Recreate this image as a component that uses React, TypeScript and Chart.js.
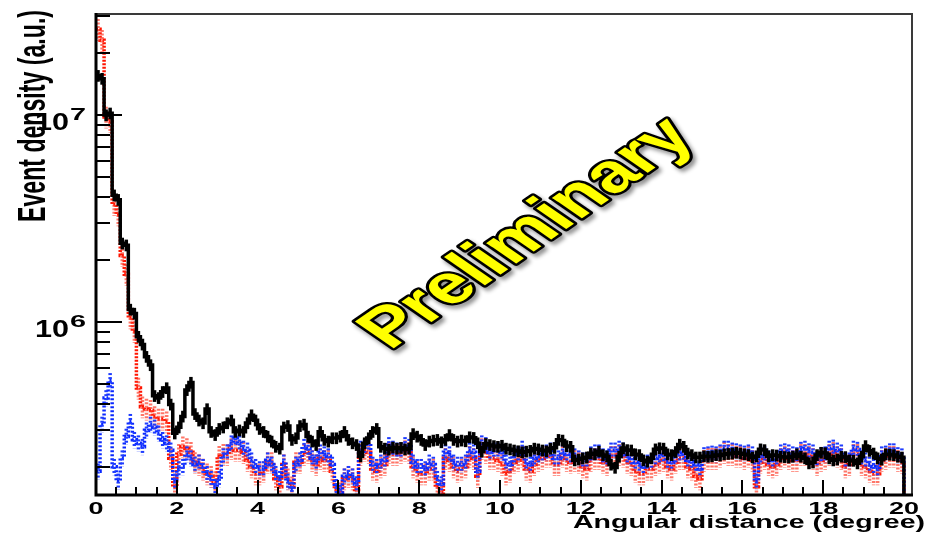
import { useEffect, useRef } from "react";
import { Chart, registerables } from "chart.js";

Chart.register(...registerables);

// Histogram binning: 0.1 degree bins from 0 to 20 degrees
const BIN_WIDTH = 0.1;
const X_MIN = 0;
const X_MAX = 20.2;
const Y_MIN = 1.46e5;
const Y_MAX = 3.08e7;
// content of the empty bins past the last filled one (drawn off the bottom of a log axis)
const EMPTY_BIN = 1;

const X_MAJOR_TICKS = [0, 2, 4, 6, 8, 10, 12, 14, 16, 18, 20];
const X_TICK_LABELS = ["0", "2", "4", "6", "8", "10", "12", "14", "16", "18", "20"];
const X_MINOR_STEP = 0.5;
const Y_MAJOR_TICKS = [1e6, 1e7];
const Y_TICK_EXPONENTS = ["6", "7"];
const Y_MINOR_TICKS = [
  2e5, 3e5, 4e5, 5e5, 6e5, 7e5, 8e5, 9e5,
  2e6, 3e6, 4e6, 5e6, 6e6, 7e6, 8e6, 9e6,
  2e7, 3e7,
];

const X_TITLE = "Angular distance (degree)";
const Y_TITLE = "Event density (a.u.)";
const WATERMARK = "Preliminary";

// Event density per bin
const BLACK = [
  1.55e7, 1.5e7, 1.0e7, 1.02e7, 4.1e6, 3.9e6, 2.4e6, 2.35e6, 1.15e6, 1.1e6,
  8.5e5, 7.8e5, 6.8e5, 6.2e5, 4.4e5, 4.3e5, 4.6e5, 4.8e5, 4.0e5, 2.9e5,
  3.1e5, 3.5e5, 4.7e5, 5.1e5, 3.6e5, 3.35e5, 3.25e5, 3.8e5, 2.95e5, 2.85e5,
  3.05e5, 3.1e5, 3.25e5, 3.35e5, 2.95e5, 3.0e5, 2.95e5, 3.25e5, 3.55e5, 3.35e5,
  3.05e5, 2.95e5, 2.8e5, 2.65e5, 2.5e5, 2.45e5, 3.1e5, 3.15e5, 2.7e5, 2.75e5,
  3.15e5, 3.2e5, 2.8e5, 2.65e5, 2.55e5, 2.95e5, 2.7e5, 2.65e5, 2.75e5, 2.75e5,
  2.8e5, 2.95e5, 2.7e5, 2.6e5, 2.55e5, 2.25e5, 2.6e5, 2.75e5, 2.95e5, 3.05e5,
  2.5e5, 2.45e5, 2.42e5, 2.48e5, 2.45e5, 2.47e5, 2.43e5, 2.45e5, 2.88e5, 2.8e5,
  2.7e5, 2.55e5, 2.65e5, 2.68e5, 2.7e5, 2.63e5, 2.7e5, 2.85e5, 2.7e5, 2.65e5,
  2.68e5, 2.66e5, 2.78e5, 2.76e5, 2.6e5, 2.37e5, 2.58e5, 2.55e5, 2.52e5, 2.5e5,
  2.53e5, 2.45e5, 2.43e5, 2.4e5, 2.38e5, 2.35e5, 2.37e5, 2.39e5, 2.45e5, 2.43e5,
  2.4e5, 2.38e5, 2.45e5, 2.47e5, 2.7e5, 2.68e5, 2.52e5, 2.5e5, 2.15e5, 2.17e5,
  2.2e5, 2.22e5, 2.32e5, 2.3e5, 2.37e5, 2.28e5, 2.25e5, 2.05e5, 1.98e5, 2.24e5,
  2.46e5, 2.41e5, 2.4e5, 2.3e5, 2.28e5, 2.15e5, 2.12e5, 2.2e5, 2.43e5, 2.46e5,
  2.45e5, 2.3e5, 2.28e5, 2.36e5, 2.56e5, 2.5e5, 2.32e5, 2.28e5, 2.22e5, 2.22e5,
  2.25e5, 2.24e5, 2.25e5, 2.28e5, 2.27e5, 2.3e5, 2.31e5, 2.32e5, 2.34e5, 2.32e5,
  2.3e5, 2.28e5, 2.22e5, 2.25e5, 2.43e5, 2.41e5, 2.25e5, 2.28e5, 2.27e5, 2.24e5,
  2.23e5, 2.22e5, 2.24e5, 2.3e5, 2.24e5, 2.2e5, 2.08e5, 2.1e5, 2.28e5, 2.34e5,
  2.33e5, 2.2e5, 2.15e5, 2.17e5, 2.24e5, 2.23e5, 2.15e5, 2.14e5, 2.08e5, 2.24e5,
  2.52e5, 2.39e5, 2.32e5, 2.2e5, 2.17e5, 2.3e5, 2.29e5, 2.28e5, 2.24e5, 2.22e5,
];

const RED = [
  2.6e7, 2.3e7, 9.8e6, 9.3e6, 3.7e6, 3.3e6, 2.1e6, 1.7e6, 1.05e6, 9.0e5,
  4.8e5, 3.9e5, 3.8e5, 3.75e5, 3.5e5, 3.4e5, 3.4e5, 3.3e5, 2.2e5, 1.6e5,
  2.3e5, 2.5e5, 2.45e5, 2.35e5, 2.1e5, 2.05e5, 1.95e5, 1.85e5, 1.8e5, 1.7e5,
  2.25e5, 2.3e5, 2.3e5, 2.45e5, 2.4e5, 2.4e5, 2.35e5, 2.15e5, 2.0e5, 1.85e5,
  1.85e5, 1.9e5, 2.1e5, 2.1e5, 1.75e5, 1.6e5, 2.05e5, 1.75e5, 1.6e5, 2.1e5,
  2.1e5, 2.3e5, 2.35e5, 2.15e5, 2.05e5, 2.2e5, 2.15e5, 2.15e5, 1.9e5, 1.55e5,
  1.5e5, 1.75e5, 1.8e5, 1.75e5, 1.55e5, 2.3e5, 2.4e5, 2.35e5, 1.95e5, 1.9e5,
  2.0e5, 2.05e5, 2.35e5, 2.3e5, 2.3e5, 2.35e5, 2.4e5, 2.35e5, 2.0e5, 1.9e5,
  1.85e5, 1.85e5, 1.95e5, 1.95e5, 1.6e5, 1.5e5, 2.2e5, 2.15e5, 2.0e5, 1.9e5,
  1.95e5, 2.0e5, 2.25e5, 2.2e5, 1.8e5, 2.45e5, 2.35e5, 2.2e5, 2.2e5, 2.15e5,
  2.05e5, 1.85e5, 1.9e5, 2.1e5, 2.15e5, 2.25e5, 1.95e5, 1.9e5, 2.05e5, 2.15e5,
  2.2e5, 2.25e5, 2.25e5, 2.05e5, 2.05e5, 2.25e5, 2.15e5, 2.1e5, 2.15e5, 2.1e5,
  2.0e5, 1.95e5, 2.15e5, 2.2e5, 2.2e5, 2.1e5, 2.05e5, 2.25e5, 2.25e5, 2.3e5,
  2.25e5, 2.1e5, 2.05e5, 1.9e5, 1.85e5, 1.85e5, 1.95e5, 1.95e5, 2.05e5, 2.1e5,
  2.15e5, 2.0e5, 1.95e5, 2.1e5, 2.2e5, 2.2e5, 2.0e5, 1.95e5, 1.8e5, 1.75e5,
  2.15e5, 2.2e5, 2.2e5, 2.2e5, 2.25e5, 2.35e5, 2.3e5, 2.3e5, 2.25e5, 2.25e5,
  2.2e5, 2.25e5, 2.15e5, 1.6e5, 2.1e5, 2.2e5, 2.05e5, 2.0e5, 2.05e5, 2.2e5,
  2.25e5, 2.2e5, 2.15e5, 2.15e5, 2.3e5, 2.3e5, 2.25e5, 2.2e5, 2.05e5, 2.15e5,
  2.2e5, 2.3e5, 2.35e5, 2.25e5, 2.2e5, 2.0e5, 2.05e5, 2.3e5, 2.3e5, 2.05e5,
  2.0e5, 1.9e5, 1.85e5, 1.85e5, 2.15e5, 2.2e5, 2.25e5, 2.25e5, 2.15e5, 2.1e5,
];

const BLUE = [
  1.9e5, 3.2e5, 4.3e5, 5.2e5, 2.0e5, 1.7e5, 2.2e5, 2.8e5, 3.3e5, 2.7e5,
  2.6e5, 2.5e5, 3.0e5, 3.2e5, 3.1e5, 2.9e5, 2.7e5, 2.6e5, 2.4e5, 1.7e5,
  1.95e5, 2.0e5, 2.3e5, 2.2e5, 2.05e5, 2.1e5, 2.0e5, 1.85e5, 1.75e5, 1.6e5,
  1.75e5, 2.25e5, 2.35e5, 2.6e5, 2.75e5, 2.6e5, 2.45e5, 2.4e5, 2.15e5, 2.0e5,
  1.95e5, 1.95e5, 2.15e5, 2.05e5, 1.85e5, 1.75e5, 2.1e5, 1.7e5, 1.55e5, 2.05e5,
  2.15e5, 2.5e5, 2.45e5, 2.2e5, 2.1e5, 2.35e5, 2.3e5, 2.25e5, 2.05e5, 1.6e5,
  1.5e5, 1.8e5, 1.85e5, 1.8e5, 1.65e5, 2.45e5, 2.5e5, 2.6e5, 2.05e5, 2.0e5,
  2.1e5, 2.15e5, 2.55e5, 2.45e5, 2.4e5, 2.4e5, 2.55e5, 2.5e5, 2.1e5, 2.0e5,
  2.0e5, 1.95e5, 2.1e5, 2.05e5, 1.75e5, 1.65e5, 2.35e5, 2.3e5, 2.1e5, 2.05e5,
  2.05e5, 2.1e5, 2.4e5, 2.35e5, 1.9e5, 2.6e5, 2.55e5, 2.35e5, 2.4e5, 2.4e5,
  2.35e5, 2.1e5, 2.05e5, 2.25e5, 2.3e5, 2.45e5, 2.1e5, 2.05e5, 2.2e5, 2.25e5,
  2.3e5, 2.35e5, 2.4e5, 2.2e5, 2.2e5, 2.35e5, 2.3e5, 2.25e5, 2.25e5, 2.2e5,
  2.15e5, 2.15e5, 2.3e5, 2.35e5, 2.35e5, 2.25e5, 2.2e5, 2.4e5, 2.4e5, 2.45e5,
  2.4e5, 2.25e5, 2.2e5, 2.1e5, 2.05e5, 2.0e5, 2.1e5, 2.12e5, 2.2e5, 2.25e5,
  2.28e5, 2.12e5, 2.1e5, 2.25e5, 2.3e5, 2.32e5, 2.15e5, 2.12e5, 2.05e5, 1.95e5,
  2.28e5, 2.3e5, 2.32e5, 2.3e5, 2.35e5, 2.45e5, 2.45e5, 2.4e5, 2.38e5, 2.35e5,
  2.32e5, 2.35e5, 2.3e5, 1.7e5, 2.25e5, 2.3e5, 2.2e5, 2.15e5, 2.2e5, 2.35e5,
  2.38e5, 2.35e5, 2.3e5, 2.28e5, 2.42e5, 2.45e5, 2.38e5, 2.35e5, 2.18e5, 2.28e5,
  2.3e5, 2.45e5, 2.48e5, 2.4e5, 2.35e5, 2.15e5, 2.15e5, 2.45e5, 2.42e5, 2.2e5,
  2.15e5, 2.05e5, 2.0e5, 1.95e5, 2.3e5, 2.32e5, 2.38e5, 2.38e5, 2.28e5, 2.25e5,
];

// Relative statistical uncertainty shown as vertical error bars
const BLACK_REL_ERR = 0.065;
const RED_REL_ERR = 0.12;
const BLUE_REL_ERR = 0.09;

const FONT = '"Liberation Sans", Arial, Helvetica, sans-serif';

type Series = {
  values: number[];
  relErr: number;
  line: string;
  errColor: string;
  dash: number[];
  width: number;
};

const SERIES: Series[] = [
  { values: BLACK, relErr: BLACK_REL_ERR, line: "#000000", errColor: "#000000", dash: [], width: 3.5 },
  { values: BLUE, relErr: BLUE_REL_ERR, line: "rgb(10,40,255)", errColor: "rgb(30,60,255)", dash: [2, 2], width: 3.5 },
  { values: RED, relErr: RED_REL_ERR, line: "rgb(255,20,0)", errColor: "rgba(255,60,40,0.7)", dash: [2, 1.5], width: 3.5 },
];

function stepPoints(values: number[]) {
  const pts = values.map((v, i) => ({ x: i * BIN_WIDTH, y: v }));
  pts.push({ x: values.length * BIN_WIDTH, y: EMPTY_BIN });
  return pts;
}

// draw text squeezed or stretched horizontally to a given advance width
function fitText(
  ctx: CanvasRenderingContext2D,
  text: string,
  x: number,
  y: number,
  font: string,
  width: number,
  align: CanvasTextAlign
) {
  ctx.save();
  ctx.font = font;
  const w = ctx.measureText(text).width;
  ctx.translate(x, y);
  ctx.scale(width / w, 1);
  ctx.textAlign = align;
  ctx.textBaseline = "alphabetic";
  ctx.fillText(text, 0, 0);
  ctx.restore();
}

const errorBars = {
  id: "errorBars",
  afterDatasetDraw(chart: any, args: any) {
    const s = SERIES[args.index];
    if (!s) return;
    const { ctx, chartArea } = chart;
    const xs = chart.scales.x;
    const ys = chart.scales.y;
    ctx.save();
    ctx.beginPath();
    ctx.rect(chartArea.left, chartArea.top, chartArea.right - chartArea.left, chartArea.bottom - chartArea.top);
    ctx.clip();
    ctx.strokeStyle = s.errColor;
    ctx.lineWidth = s.width;
    ctx.setLineDash(s.dash);
    ctx.lineCap = "butt";
    s.values.forEach((v, i) => {
      const xc = xs.getPixelForValue((i + 0.5) * BIN_WIDTH);
      const y1 = ys.getPixelForValue(v * (1 + s.relErr));
      const y2 = ys.getPixelForValue(v * (1 - s.relErr));
      ctx.beginPath();
      ctx.moveTo(xc, y1);
      ctx.lineTo(xc, y2);
      ctx.stroke();
    });
    ctx.restore();
  },
};

const frameAndText = {
  id: "frameAndText",
  afterDraw(chart: any) {
    const { ctx, chartArea } = chart;
    const { left, right, top, bottom } = chartArea;
    const xs = chart.scales.x;
    const ys = chart.scales.y;
    ctx.save();

    // top and right frame
    ctx.strokeStyle = "#3a3a3a";
    ctx.lineWidth = 2;
    ctx.beginPath();
    ctx.moveTo(left, top);
    ctx.lineTo(right, top);
    ctx.lineTo(right, bottom);
    ctx.stroke();

    // axis lines
    ctx.strokeStyle = "#000";
    ctx.lineWidth = 3;
    ctx.beginPath();
    ctx.moveTo(left, top - 1);
    ctx.lineTo(left, bottom);
    ctx.lineTo(right + 1, bottom);
    ctx.stroke();

    // x ticks (pointing into the frame)
    ctx.lineWidth = 2;
    for (let v = X_MIN; v <= 20 + 1e-9; v += X_MINOR_STEP) {
      const major = X_MAJOR_TICKS.some((t) => Math.abs(t - v) < 1e-6);
      const px = Math.round(xs.getPixelForValue(v));
      ctx.beginPath();
      ctx.moveTo(px, bottom);
      ctx.lineTo(px, bottom - (major ? 15 : 8));
      ctx.stroke();
    }
    // y ticks
    Y_MINOR_TICKS.forEach((v) => {
      const py = Math.round(ys.getPixelForValue(v));
      ctx.beginPath();
      ctx.moveTo(left, py);
      ctx.lineTo(left + 14, py);
      ctx.stroke();
    });
    Y_MAJOR_TICKS.forEach((v) => {
      const py = Math.round(ys.getPixelForValue(v));
      ctx.beginPath();
      ctx.moveTo(left, py);
      ctx.lineTo(left + 26, py);
      ctx.stroke();
    });

    ctx.fillStyle = "#000";
    // x tick labels
    X_MAJOR_TICKS.forEach((v, i) => {
      const px = xs.getPixelForValue(v);
      const label = X_TICK_LABELS[i];
      fitText(ctx, label, px, bottom + 19, `bold 17px ${FONT}`, 15 * label.length, "center");
    });
    // y tick labels: 10 with exponent
    Y_MAJOR_TICKS.forEach((v, i) => {
      const py = ys.getPixelForValue(v);
      fitText(ctx, "10", 69, py + 15, `bold 24px ${FONT}`, 34, "right");
      fitText(ctx, Y_TICK_EXPONENTS[i], 70, py + 5, `bold 16px ${FONT}`, 16, "left");
    });

    // axis titles
    fitText(ctx, X_TITLE, 925, bottom + 33, `bold 18px ${FONT}`, 352, "right");
    ctx.save();
    ctx.translate(45, 222);
    ctx.rotate(-Math.PI / 2);
    fitText(ctx, Y_TITLE, 0, 0, `bold 39px ${FONT}`, 212, "left");
    ctx.restore();

    // watermark
    ctx.save();
    ctx.translate(528, 234);
    ctx.transform(1.45, 0, 0, 1, 0, 0);
    ctx.rotate(-Math.PI / 4);
    ctx.font = `bold 55px ${FONT}`;
    ctx.textAlign = "center";
    ctx.textBaseline = "middle";
    ctx.lineJoin = "round";
    ctx.lineWidth = 4.5;
    ctx.strokeStyle = "#000";
    ctx.shadowColor = "rgba(0,0,0,0.45)";
    ctx.shadowBlur = 4;
    ctx.shadowOffsetX = 3;
    ctx.shadowOffsetY = 3;
    ctx.strokeText(WATERMARK, 0, 0);
    ctx.shadowColor = "transparent";
    ctx.fillStyle = "#ffff00";
    ctx.fillText(WATERMARK, 0, 0);
    ctx.restore();

    ctx.restore();
  },
};

export default function App() {
  const canvasRef = useRef<HTMLCanvasElement | null>(null);

  useEffect(() => {
    const canvas = canvasRef.current;
    if (!canvas) return;
    const chart = new Chart(canvas, {
      type: "line",
      data: {
        datasets: SERIES.map((s) => ({
          data: stepPoints(s.values),
          borderColor: s.line,
          borderWidth: s.width,
          borderDash: s.dash,
          borderCapStyle: "butt" as const,
          stepped: "before" as const,
          pointRadius: 0,
          fill: false,
        })),
      },
      options: {
        animation: false,
        responsive: false,
        devicePixelRatio: 1,
        layout: { padding: { left: 96, top: 14, right: 17, bottom: 41 } },
        plugins: { legend: { display: false }, tooltip: { enabled: false } },
        scales: {
          x: { type: "linear", min: X_MIN, max: X_MAX, display: false },
          y: { type: "logarithmic", min: Y_MIN, max: Y_MAX, display: false },
        },
      },
      plugins: [errorBars, frameAndText],
    });
    return () => chart.destroy();
  }, []);

  return (
    <div style={{ position: "fixed", left: 0, top: 0, width: 929, height: 536, background: "#fff" }}>
      <canvas ref={canvasRef} width={929} height={536} />
    </div>
  );
}
